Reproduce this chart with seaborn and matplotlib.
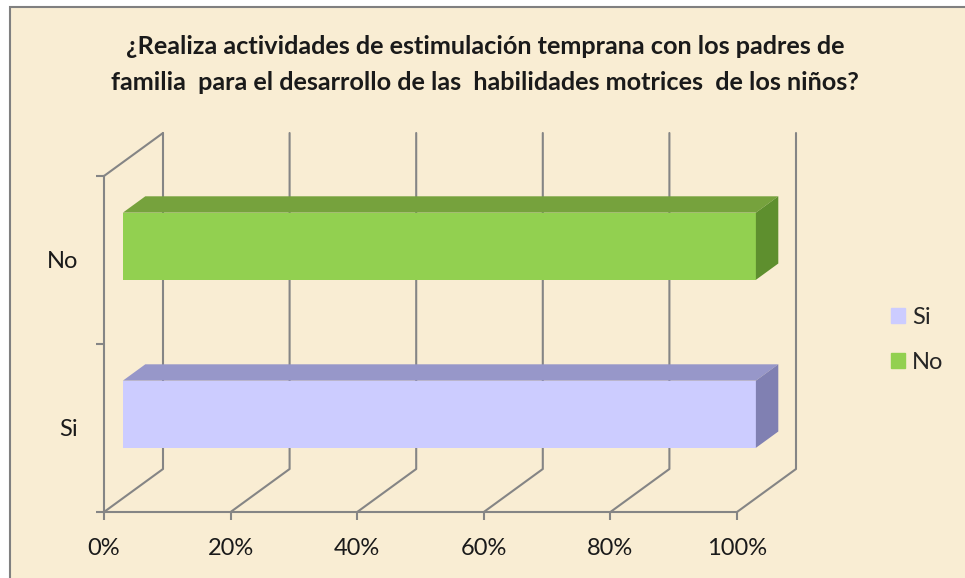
import pandas as pd
import seaborn as sns
import matplotlib.pyplot as plt
from matplotlib.patches import Polygon, Rectangle, Patch

# datos
respuestas = ["No", "Si"]
porcentajes = [100, 100]
ticks_x = [0, 20, 40, 60, 80, 100]
etiquetas_x = ["0%", "20%", "40%", "60%", "80%", "100%"]
leyenda = ["Si", "No"]
titulo_1 = "¿Realiza actividades de estimulación temprana con los padres de"
titulo_2 = "familia  para el desarrollo de las  habilidades motrices  de los niños?"

colores_frente = {"Si": "#CCCCFF", "No": "#92D050"}
colores_arriba = {"Si": "#9797C9", "No": "#76A23D"}
colores_lado = {"Si": "#8080B2", "No": "#5E8F2E"}
gris = "#858585"
fondo = "#F9EDD3"

df = pd.DataFrame({"respuesta": respuestas, "porcentaje": porcentajes})

sns.set_theme(style="white")
plt.rcParams['font.family'] = ['Lato', 'DejaVu Sans']

fig = plt.figure(figsize=(9.65, 5.78), dpi=100, facecolor="white")
fig.patches.append(Rectangle((10 / 965, -0.1), 1.2, 571 / 578 + 0.1,
                             transform=fig.transFigure, facecolor=fondo,
                             edgecolor="#808080", lw=1.5, zorder=-10))

ax = fig.add_axes([104 / 965, 66 / 578, 633 / 965, 336 / 578])
ax.set_facecolor("none")

sns.barplot(data=df, x="porcentaje", y="respuesta", hue="respuesta",
            order=["No", "Si"], palette=colores_frente, width=0.4,
            saturation=1, errorbar=None, legend=False, linewidth=0, ax=ax)

ax.set_xlim(0, 100)
ax.set_ylim(1.5, -0.5)

# profundidad 3D en unidades de datos
ddx = 59 * 100 / 633
ddy = -43 * 2 / 336
f1, f2 = 0.32, 0.70

# rejilla en perspectiva
for t in ticks_x:
    ax.plot([t, t + ddx, t + ddx], [1.5, 1.5 + ddy, -0.5 + ddy],
            color=gris, lw=1.5, clip_on=False, zorder=1)
ax.plot([0, ddx], [-0.5, -0.5 + ddy], color=gris, lw=1.5, clip_on=False, zorder=1)

# barras con caras superior y lateral
for bar in list(ax.patches):
    x0, y0 = bar.get_x(), bar.get_y()
    w, h = bar.get_width(), bar.get_height()
    cat = ["No", "Si"][int(round(y0 + h / 2))]
    bar.set_x(x0 + f1 * ddx)
    bar.set_y(y0 + f1 * ddy)
    bar.set_edgecolor("none")
    bar.set_zorder(3)
    bar.set_clip_on(False)
    top = [(x0 + f1 * ddx, y0 + f1 * ddy), (x0 + w + f1 * ddx, y0 + f1 * ddy),
           (x0 + w + f2 * ddx, y0 + f2 * ddy), (x0 + f2 * ddx, y0 + f2 * ddy)]
    side = [(x0 + w + f1 * ddx, y0 + f1 * ddy), (x0 + w + f2 * ddx, y0 + f2 * ddy),
            (x0 + w + f2 * ddx, y0 + h + f2 * ddy), (x0 + w + f1 * ddx, y0 + h + f1 * ddy)]
    ax.add_patch(Polygon(top, closed=True, facecolor=colores_arriba[cat],
                         edgecolor="none", zorder=3, clip_on=False))
    ax.add_patch(Polygon(side, closed=True, facecolor=colores_lado[cat],
                         edgecolor="none", zorder=3, clip_on=False))

for s in ["top", "right"]:
    ax.spines[s].set_visible(False)
for s in ["left", "bottom"]:
    ax.spines[s].set_color(gris)
    ax.spines[s].set_linewidth(1.5)

ax.set_xticks(ticks_x, etiquetas_x)
ax.tick_params(axis="x", bottom=True, length=6, width=1.5, color=gris,
               pad=13, labelsize=17, labelcolor="#1a1a1a")
ax.set_yticks([-0.5, 0.5, 1.5], minor=True)
ax.tick_params(axis="y", which="minor", left=True, length=6, width=1.5, color=gris)
ax.tick_params(axis="y", which="major", left=False, length=0, pad=18.5,
               labelsize=17, labelcolor="#1a1a1a")
ax.set_xlabel("")
ax.set_ylabel("")

fig.text(485 / 965, 1 - 54 / 578, titulo_1, ha="center", va="baseline",
         fontsize=18.2, fontweight="bold", color="#1a1a1a")
fig.text(485 / 965, 1 - 90 / 578, titulo_2, ha="center", va="baseline",
         fontsize=18.2, fontweight="bold", color="#1a1a1a")

handles = [Patch(color=colores_frente[c], label=c) for c in leyenda]
fig.legend(handles=handles, loc="center left", bbox_to_anchor=(891 / 965, 1 - 340 / 578),
           frameon=False, fontsize=17, handlelength=0.6, handleheight=0.6,
           handletextpad=0.3, labelspacing=1.0, borderaxespad=0, borderpad=0)

fig.savefig("out.png", dpi=100)
